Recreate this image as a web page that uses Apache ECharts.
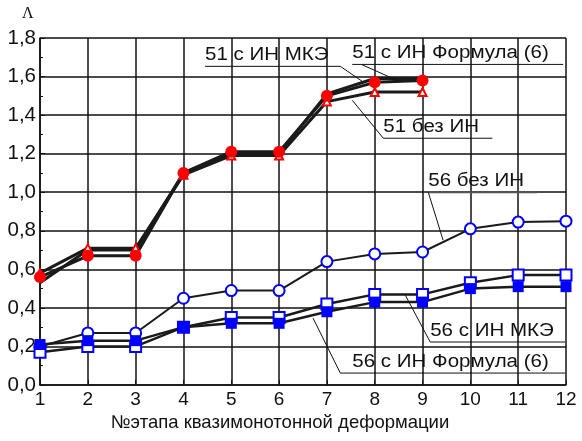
<!DOCTYPE html>
<html>
<head>
<meta charset="utf-8">
<script src="https://cdn.jsdelivr.net/npm/echarts@6/dist/echarts.min.js"></script>
<style>
  html, body { margin: 0; padding: 0; background: #fff; }
  #chart { width: 582px; height: 441px; }
</style>
</head>
<body>
<div id="chart"></div>
<script>
// этапы деформации
var stages51 = [1, 2, 3, 4, 5, 6, 7, 8, 9];
var stages56 = [1, 2, 3, 4, 5, 6, 7, 8, 9, 10, 11, 12];

// образец 51
var s51Mke = [0.53, 0.70, 0.70, 1.10, 1.20, 1.20, 1.51, 1.59, 1.59];
var s51Formula = [0.56, 0.67, 0.67, 1.10, 1.21, 1.21, 1.50, 1.57, 1.58];
var s51NoIn = [0.58, 0.71, 0.71, 1.09, 1.19, 1.19, 1.47, 1.52, 1.52];

// образец 56
var s56NoIn = [0.20, 0.27, 0.27, 0.45, 0.49, 0.49, 0.64, 0.68, 0.69, 0.81, 0.845, 0.85];
var s56Mke = [0.17, 0.20, 0.20, 0.30, 0.35, 0.35, 0.42, 0.47, 0.47, 0.53, 0.57, 0.57];
var s56Formula = [0.21, 0.23, 0.23, 0.30, 0.32, 0.32, 0.38, 0.43, 0.43, 0.50, 0.51, 0.51];

// подписи кривых
var noteTexts = ['51 с ИН МКЭ', '51 с ИН Формула (6)', '51 без ИН', '56 без ИН', '56 с ИН МКЭ', '56 с ИН Формула (6)'];

var FONT = '"Liberation Sans", Arial, sans-serif';

function pairs(xs, ys) {
    var out = [];
    for (var i = 0; i < ys.length; i++) out.push([xs[i], ys[i]]);
    return out;
}

function lineSeries(name, data, symbol, size, color, width, fill) {
    return {
        name: name,
        type: 'line',
        data: data,
        symbol: symbol,
        symbolSize: size,
        showSymbol: symbol !== 'none',
        lineStyle: {color: '#1a1a1a', width: width},
        itemStyle: {
            color: fill || color,
            borderColor: color,
            borderWidth: fill ? 2 : 0
        },
        emphasis: {disabled: true},
        z: 3
    };
}

var chart = echarts.init(document.getElementById('chart'));

var option = {
    animation: false,
    backgroundColor: '#fff',
    grid: {left: 40, right: 16, top: 38, bottom: 56},
    xAxis: {
        type: 'value',
        min: 1, max: 12, interval: 1,
        name: '№этапа квазимонотонной деформации',
        nameLocation: 'middle',
        nameGap: 26,
        nameTextStyle: {color: '#111', fontSize: 18.5, fontFamily: FONT, padding: [0, 46, 0, 0]},
        axisLine: {lineStyle: {color: '#111', width: 1.5}},
        axisTick: {inside: true, length: 5, lineStyle: {color: '#111'}},
        axisLabel: {color: '#111', fontSize: 19, fontFamily: FONT, margin: 5},
        splitLine: {show: true, lineStyle: {color: '#111', width: 1.5}}
    },
    yAxis: {
        type: 'value',
        min: 0, max: 1.8, interval: 0.2,
        axisLine: {show: true, lineStyle: {color: '#111', width: 1.5}},
        axisTick: {inside: true, length: 5, lineStyle: {color: '#111'}},
        minorTick: {show: true, splitNumber: 2, length: 3, lineStyle: {color: '#111'}},
        axisLabel: {
            color: '#111', fontSize: 20.5, fontFamily: FONT, margin: 4,
            formatter: function (v) { return v.toFixed(1).replace('.', ','); }
        },
        splitLine: {show: true, lineStyle: {color: '#111', width: 1.5}}
    },
    series: [
        lineSeries('51 с ИН МКЭ', pairs(stages51, s51Mke), 'none', 0, '#f00', 3),
        lineSeries('51 без ИН', pairs(stages51, s51NoIn), 'triangle', 8, '#f00', 3, '#fff'),
        lineSeries('51 с ИН Формула (6)', pairs(stages51, s51Formula), 'circle', 12, '#f00', 3),
        lineSeries('56 без ИН', pairs(stages56, s56NoIn), 'circle', 11, '#00f', 2, '#fff'),
        lineSeries('56 с ИН МКЭ', pairs(stages56, s56Mke), 'rect', 11, '#00f', 2.5, '#fff'),
        lineSeries('56 с ИН Формула (6)', pairs(stages56, s56Formula), 'rect', 11, '#00f', 2.5)
    ]
};
chart.setOption(option);

// выноски: [начало подчёркивания, конец подчёркивания, точка указателя, откуда идёт указатель]
var noteAnchors = [
    [[4.45, 1.653], [7.28, 1.653], [7.74, 1.575], 'end'],
    [[7.53, 1.663], [11.94, 1.663], [8.47, 1.58], 7.72],
    [[8.18, 1.28], [10.46, 1.28], [7.53, 1.477], 'start'],
    [[9.12, 1.0], [11.40, 1.0], [9.43, 0.751], 'start'],
    [[9.16, 0.223], [11.98, 0.223], [8.64, 0.466], 'start'],
    [[7.28, 0.062], [11.98, 0.062], [6.71, 0.347], 'start']
];
var textOffsets = [0, 0, 0, 0, 0, 12];

var graphics = [];
noteAnchors.forEach(function (a, i) {
    var p0 = chart.convertToPixel({gridIndex: 0}, a[0]);
    var p1 = chart.convertToPixel({gridIndex: 0}, a[1]);
    var pt = chart.convertToPixel({gridIndex: 0}, a[2]);
    var lx;
    if (a[3] === 'start') lx = p0[0];
    else if (a[3] === 'end') lx = p1[0];
    else lx = chart.convertToPixel({gridIndex: 0}, [a[3], a[0][1]])[0];
    graphics.push({
        type: 'text',
        x: p0[0] + textOffsets[i],
        y: p0[1] - 2,
        scaleX: 1.14,
        style: {
            text: noteTexts[i],
            fill: '#111',
            font: '18px ' + FONT,
            textVerticalAlign: 'bottom'
        },
        z: 6
    });
    graphics.push({
        type: 'line',
        shape: {x1: p0[0], y1: p0[1], x2: p1[0], y2: p1[1]},
        style: {stroke: i === 3 ? '#555' : '#111', lineWidth: i === 3 ? 2 : 1},
        z: 6
    });
    graphics.push({
        type: 'line',
        shape: {x1: lx, y1: p0[1], x2: pt[0], y2: pt[1]},
        style: {stroke: '#111', lineWidth: 1},
        z: 6
    });
});
graphics.push({
    type: 'text',
    left: 22, top: 6,
    style: {text: 'Λ', fill: '#111', font: '16px "Liberation Serif", serif'}
});
chart.setOption({graphic: graphics});
</script>
</body>
</html>
